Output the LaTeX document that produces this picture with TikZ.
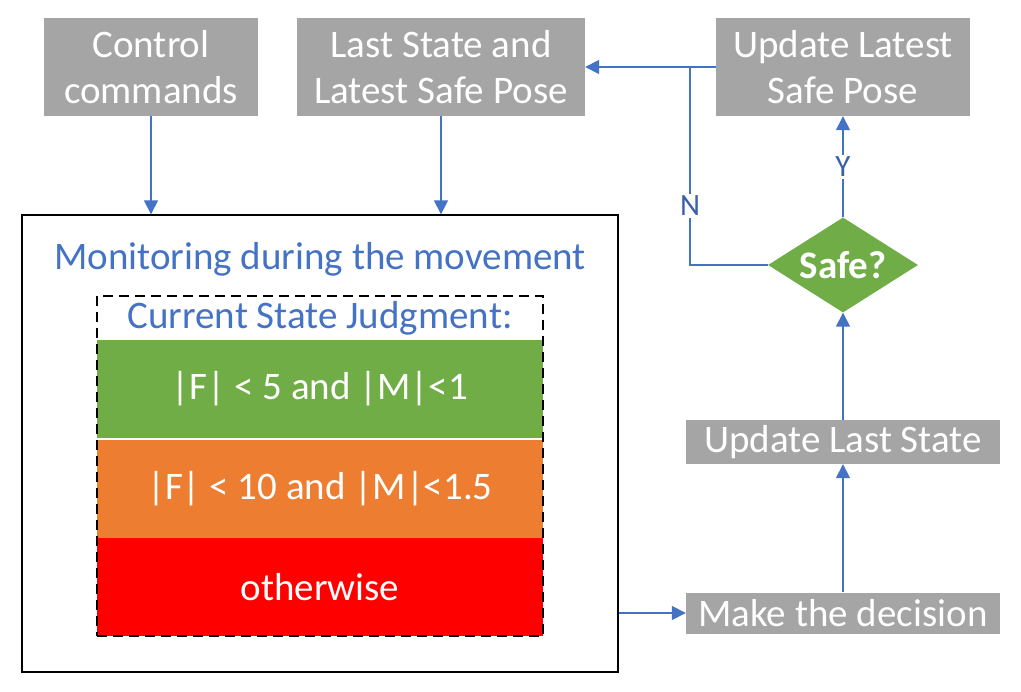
\documentclass[tikz,border=0pt]{standalone}
\usepackage{fontspec}
\setmainfont{Carlito}
\usetikzlibrary{arrows.meta, positioning, shapes.geometric}
\definecolor{boxgray}{HTML}{A5A5A5}
\definecolor{flowblue}{HTML}{4472C4}
\definecolor{safegreen}{HTML}{70AD47}
\definecolor{warnorange}{HTML}{ED7D31}
\definecolor{dangerred}{HTML}{FF0000}

\tikzset{
  bigfont/.style={font=\fontsize{39}{46}\selectfont},
  graybox/.style={bigfont, fill=boxgray, text=white, inner sep=0pt, align=center},
  band/.style={bigfont, minimum width=446pt, minimum height=98pt, inner sep=0pt, text=white},
  flowline/.style={flowblue, line width=1.6pt},
  flow/.style={flowline, -{Triangle[length=14pt,width=14pt]}},
  yesno/.style={fill=white, text=flowblue!85!black, inner sep=2pt, font=\fontsize{31}{36}\selectfont}
}

\begin{document}
\begin{tikzpicture}[x=1pt, y=-1pt]
\useasboundingbox (0,0) rectangle (1021,692);
% top row
\node[graybox, minimum width=214pt, minimum height=98pt] (ctrl) at (151,67) {Control\\commands};
\node[graybox, minimum width=288pt, minimum height=98pt] (last) at (441,67) {Last State and\\Latest Safe Pose};
\node[graybox, minimum width=254pt, minimum height=98pt] (upsafe) at (843,67) {Update Latest\\Safe Pose};
% monitoring block
\node[draw=black, line width=1.4pt, minimum width=596pt, minimum height=457pt, inner sep=0pt] (monitor) at (320,443.5) {};
\node[bigfont, text=flowblue] (title) at (320,259) {Monitoring during the movement};
\node[bigfont, text=flowblue] (judge) at (320,318) {Current State Judgment:};
\node[band, fill=safegreen] (green) at (320,389) {|F| < 5 and |M|<1};
\node[band, fill=warnorange] (orange) at (320,489) {|F| < 10 and |M|<1.5};
\node[band, fill=dangerred] (red) at (320,587) {otherwise};
\node[draw=black, dash pattern=on 10pt off 6pt, line width=2.4pt, minimum width=446pt, minimum height=340pt, inner sep=0pt] (states) at (320,466) {};
% right column
\node[graybox, minimum width=314pt, minimum height=41pt] (decide) at (843,613) {Make the decision};
\node[graybox, minimum width=314pt, minimum height=44pt] (uplast) at (843,442) {Update Last State};
\node[diamond, fill=safegreen, minimum width=150pt, minimum height=95pt, inner sep=0pt] (safe) at (843,265) {};
\node[text=white, font=\fontsize{39}{46}\selectfont\bfseries] (safetext) at (safe) {Safe?};
\coordinate (njoin) at (690,67);
% connectors
\draw[flow] (ctrl.south) -- (ctrl.south |- monitor.north);
\draw[flow] (last.south) -- (last.south |- monitor.north);
\draw[flow] (monitor.east |- decide) -- (decide.west);
\draw[flow] (decide.north) -- (uplast.south);
\draw[flow] (uplast.north) -- (safe.south);
\draw[flow] (safe.north) -- node[yesno] {Y} (upsafe.south);
\draw[flow] (upsafe.west) -- (last.east);
\draw[flowline] (safe.west) -| node[yesno, pos=0.65] {N} (njoin);
\end{tikzpicture}
\end{document}
